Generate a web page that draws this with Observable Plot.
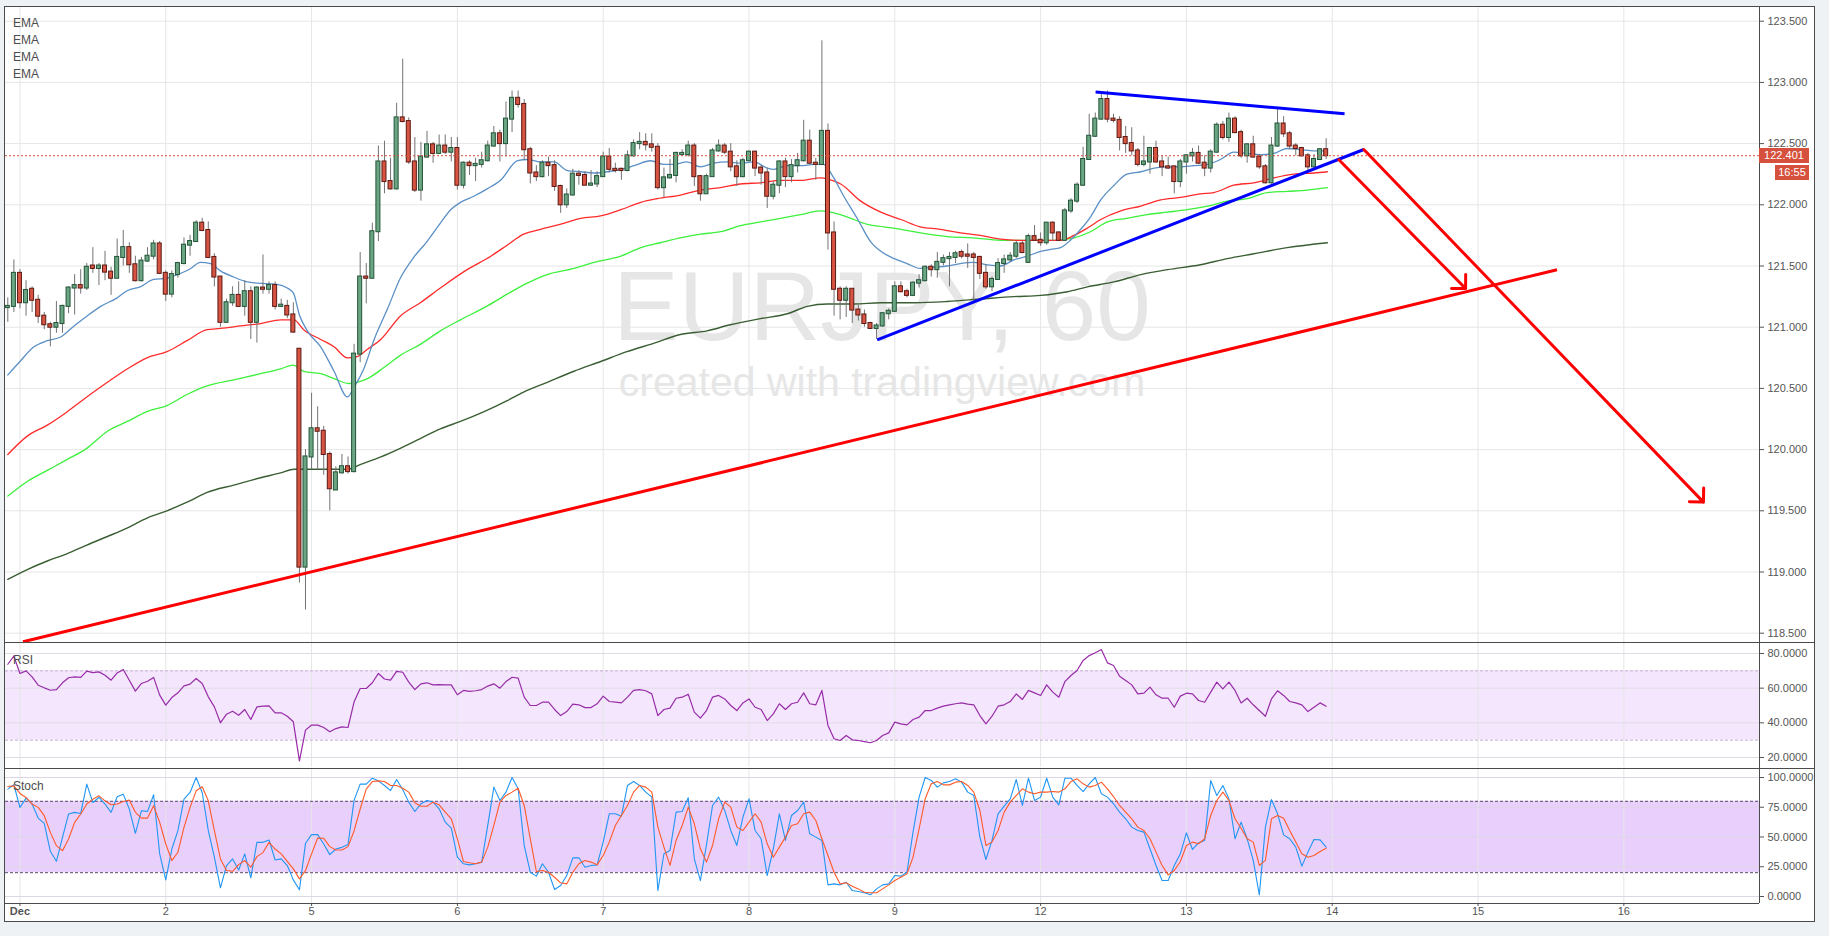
<!DOCTYPE html>
<html><head><meta charset="utf-8">
<script src="https://cdn.jsdelivr.net/npm/d3@7"></script>
<script src="https://cdn.jsdelivr.net/npm/@observablehq/plot@0.6"></script>
<style>
html,body{margin:0;padding:0;background:#eff2f5;}
#wrap{position:relative;width:1829px;height:936px;background:#eff2f5;font-family:"Liberation Sans",Arial,sans-serif;overflow:hidden}
.abs{position:absolute}
.ln{position:absolute;background:#4b4b4b}
.lbl{position:absolute;color:#4d4d4d;font-size:12px;line-height:17px}
.wm{position:absolute;left:5px;width:1754px;text-align:center;color:#e6e6e6;white-space:nowrap}
.tag{position:absolute;background:#d6503e;color:#fff;font-size:11px;text-align:center;line-height:15px;height:15px}
</style></head><body><div id="wrap"></div>
<script>
// ---------- DATA ----------
const dayTickIdx = [2, 26, 50, 74, 98, 122, 146, 170, 194, 218, 242, 266];
const dayLabels = ["Dec", "2", "5", "6", "7", "8", "9", "12", "13", "14", "15", "16"];
const priceTicks = [118.5, 119, 119.5, 120, 120.5, 121, 121.5, 122, 122.5, 123, 123.5];
const rsiTicks = [20, 40, 60, 80];
const stochTicks = [0, 25, 50, 75, 100];
const rsiBand = [30, 70];
const stochBand = [20, 80];

const open = [121.16,121.17,121.44,121.20,121.31,121.22,121.09,121.02,121.00,121.03,
121.17,121.32,121.34,121.32,121.50,121.48,121.50,121.45,121.40,121.57,
121.65,121.51,121.38,121.54,121.58,121.68,121.44,121.27,121.43,121.52,
121.67,121.70,121.85,121.79,121.57,121.41,121.04,121.20,121.26,121.17,
121.29,121.04,121.32,121.31,121.34,121.17,121.17,121.10,120.82,119.04,
119.94,120.17,120.15,119.96,119.67,119.81,119.86,119.82,120.78,121.41,
121.40,121.78,122.35,122.19,122.13,122.71,122.68,122.35,122.12,122.39,
122.49,122.42,122.48,122.43,122.46,122.16,122.34,122.32,122.33,122.36,
122.48,122.58,122.50,122.70,122.87,122.82,122.45,122.26,122.23,122.34,
122.32,122.15,122.00,122.08,122.25,122.24,122.16,122.17,122.23,122.39,
122.29,122.29,122.28,122.40,122.50,122.51,122.49,122.47,122.14,122.22,
122.24,122.41,122.41,122.48,122.23,122.09,122.23,122.44,122.48,122.43,
122.31,122.23,122.36,122.43,122.30,122.26,122.07,122.16,122.35,122.23,
122.32,122.36,122.52,122.34,122.33,122.60,121.77,121.31,121.22,121.31,
121.14,121.10,121.03,120.99,121.01,121.11,121.13,121.33,121.29,121.26,
121.36,121.38,121.49,121.47,121.53,121.56,121.57,121.61,121.59,121.59,
121.57,121.44,121.33,121.39,121.52,121.55,121.58,121.68,121.53,121.74,
121.71,121.69,121.85,121.77,121.71,121.95,122.03,122.16,122.37,122.56,
122.70,122.86,122.70,122.69,122.55,122.50,122.44,122.33,122.35,122.46,
122.35,122.31,122.31,122.19,122.35,122.40,122.42,122.34,122.30,122.43,
122.65,122.55,122.70,122.59,122.40,122.49,122.39,122.31,122.18,122.48,
122.66,122.58,122.48,122.46,122.40,122.31,122.37,122.45];
const high = [121.24,121.55,121.47,121.38,121.33,121.26,121.12,121.04,121.21,121.18,
121.33,121.43,121.47,121.52,121.65,121.52,121.62,121.49,121.72,121.79,
121.69,121.58,121.57,121.65,121.71,121.70,121.46,121.46,121.53,121.73,
121.75,121.87,121.89,121.86,121.60,121.41,121.23,121.33,121.37,121.38,
121.33,121.33,121.59,121.37,121.37,121.23,121.22,121.20,120.82,120.00,
120.46,120.35,120.19,119.98,119.86,119.96,119.94,120.86,121.61,121.52,
121.85,122.48,122.52,122.38,122.83,123.19,122.71,122.55,122.51,122.60,
122.51,122.57,122.57,122.55,122.55,122.35,122.36,122.38,122.43,122.52,
122.64,122.61,122.84,122.93,122.93,122.86,122.47,122.32,122.36,122.39,
122.36,122.16,122.13,122.29,122.28,122.27,122.28,122.27,122.43,122.46,
122.34,122.30,122.44,122.53,122.59,122.58,122.58,122.50,122.30,122.37,
122.43,122.45,122.52,122.50,122.24,122.25,122.46,122.53,122.50,122.50,
122.36,122.38,122.44,122.44,122.32,122.30,122.19,122.36,122.38,122.37,
122.42,122.69,122.61,122.38,123.34,122.66,121.86,121.33,121.33,121.31,
121.18,121.14,121.04,121.03,121.12,121.15,121.37,121.37,121.31,121.37,
121.43,121.50,121.51,121.61,121.59,121.61,121.62,121.63,121.68,121.61,
121.58,121.51,121.41,121.56,121.59,121.61,121.70,121.70,121.76,121.83,
121.77,121.85,121.86,121.78,121.97,122.05,122.18,122.47,122.74,122.75,
122.91,122.93,122.74,122.72,122.64,122.63,122.46,122.56,122.47,122.52,
122.40,122.39,122.31,122.37,122.41,122.46,122.48,122.40,122.45,122.67,
122.68,122.75,122.72,122.61,122.50,122.56,122.41,122.33,122.55,122.79,
122.72,122.60,122.50,122.47,122.42,122.41,122.46,122.54];
const low = [121.04,121.12,121.15,121.09,121.12,121.03,120.98,120.84,120.95,120.95,
121.11,121.10,121.27,121.30,121.44,121.34,121.38,121.26,121.40,121.50,
121.44,121.37,121.37,121.53,121.55,121.43,121.21,121.24,121.40,121.51,
121.58,121.70,121.78,121.56,121.33,121.00,121.03,121.17,121.17,121.09,
120.90,120.87,121.27,121.27,121.14,121.16,121.07,120.95,118.91,118.69,
119.84,119.83,119.79,119.50,119.67,119.80,119.80,119.81,120.71,121.19,
121.40,121.70,122.09,122.12,122.12,122.67,122.33,122.10,122.03,122.38,
122.34,122.41,122.41,122.35,122.12,122.13,122.24,122.19,122.30,122.35,
122.47,122.35,122.39,122.59,122.79,122.36,122.17,122.19,122.22,122.23,
122.11,121.93,121.97,122.07,122.16,122.16,122.15,122.14,122.23,122.26,
122.26,122.20,122.27,122.39,122.45,122.44,122.43,122.12,122.06,122.21,
122.18,122.40,122.39,122.15,122.03,122.09,122.23,122.43,122.41,122.27,
122.15,122.22,122.35,122.23,122.16,121.97,122.04,122.09,122.14,122.18,
122.26,122.35,122.33,122.20,122.32,121.63,121.09,121.06,121.08,121.03,
121.05,121.00,120.98,120.90,121.00,121.06,121.12,121.28,121.24,121.25,
121.32,121.37,121.41,121.40,121.50,121.33,121.52,121.56,121.48,121.20,
121.39,121.31,121.29,121.39,121.44,121.53,121.56,121.60,121.52,121.70,
121.66,121.67,121.70,121.70,121.70,121.93,122.01,122.15,122.37,122.55,
122.69,122.67,122.67,122.44,122.42,122.40,122.31,122.31,122.25,122.34,
122.23,122.29,122.09,122.14,122.25,122.35,122.33,122.23,122.26,122.42,
122.53,122.51,122.58,122.38,122.34,122.38,122.29,122.17,122.17,122.47,
122.55,122.45,122.40,122.39,122.28,122.30,122.37,122.37];
const close = [121.17,121.44,121.20,121.30,121.22,121.09,121.02,121.00,121.03,121.17,
121.32,121.34,121.32,121.49,121.48,121.50,121.45,121.40,121.57,121.65,
121.51,121.38,121.54,121.58,121.68,121.44,121.27,121.43,121.52,121.67,
121.70,121.85,121.79,121.57,121.41,121.04,121.20,121.26,121.17,121.29,
121.04,121.32,121.31,121.34,121.17,121.18,121.10,120.96,119.04,119.94,
120.17,120.15,119.96,119.68,119.81,119.86,119.82,120.78,121.41,121.40,
121.78,122.35,122.19,122.13,122.71,122.68,122.35,122.12,122.39,122.49,
122.42,122.48,122.43,122.46,122.16,122.34,122.32,122.33,122.36,122.48,
122.58,122.50,122.70,122.87,122.82,122.45,122.26,122.23,122.34,122.32,
122.15,122.00,122.08,122.25,122.24,122.16,122.17,122.23,122.39,122.29,
122.28,122.28,122.40,122.50,122.51,122.49,122.47,122.14,122.22,122.24,
122.42,122.42,122.48,122.23,122.09,122.23,122.44,122.48,122.43,122.31,
122.23,122.36,122.43,122.30,122.26,122.07,122.16,122.35,122.23,122.32,
122.36,122.52,122.34,122.33,122.60,121.77,121.31,121.22,121.31,121.14,
121.10,121.03,120.99,121.01,121.11,121.13,121.33,121.29,121.26,121.36,
121.38,121.49,121.47,121.53,121.56,121.57,121.60,121.58,121.58,121.57,
121.44,121.33,121.39,121.52,121.55,121.58,121.68,121.61,121.74,121.71,
121.69,121.85,121.77,121.71,121.95,122.03,122.16,122.37,122.56,122.70,
122.86,122.70,122.69,122.55,122.50,122.44,122.33,122.35,122.46,122.35,
122.31,122.30,122.19,122.35,122.40,122.42,122.34,122.30,122.43,122.65,
122.55,122.70,122.59,122.40,122.49,122.39,122.31,122.18,122.48,122.66,
122.58,122.48,122.46,122.40,122.31,122.37,122.45,122.401];

// EMA samples: bar index / value
const emaFastX = [0,2,4.3,6.5,8.7,10.9,13,15.3,18,19.7,21.8,24,26.2,27.9,30.1,31.7,33.4,35,37.2,39.4,41.1,44.3,46,47,48,49.3,51.5,53.7,55.9,57,58.6,60.3,62.5,64.6,66.8,69,71.2,72.9,74.5,76.7,78.9,81.1,83.9,85.5,87.7,89.9,92.1,94.3,96.5,98.7,100.9,103.1,105.8,108,109.6,111.8,114,116.2,118.4,120.6,122.8,125,126.1,128.3,130.5,132.7,134.3,135.7,137.6,139.8,142,143.7,145.9,148,150.2,152.4,154.6,156.8,158.9,161.2,163.4,165.6,167.8,170,172.2,173.3,174.9,176.6,178.2,179.9,182.1,184.2,186.5,188.7,190.9,193,195.2,197.5,199.6,201.8,204,206.2,208.4,210.6,212.8,215,217.2];
const emaFastY = [120.61,120.72,120.84,120.89,120.92,121.01,121.09,121.17,121.24,121.30,121.33,121.39,121.40,121.43,121.48,121.53,121.52,121.46,121.41,121.37,121.36,121.35,121.32,121.28,121.10,120.97,120.84,120.64,120.43,120.51,120.66,120.90,121.15,121.40,121.57,121.70,121.85,121.96,122.02,122.07,122.13,122.20,122.36,122.37,122.35,122.35,122.28,122.27,122.26,122.27,122.29,122.32,122.36,122.33,122.33,122.35,122.31,122.34,122.35,122.34,122.35,122.30,122.29,122.32,122.32,122.33,122.33,122.24,122.07,121.89,121.70,121.62,121.56,121.52,121.48,121.49,121.50,121.52,121.53,121.51,121.50,121.55,121.58,121.62,121.64,121.65,121.71,121.80,121.90,122.04,122.16,122.25,122.27,122.30,122.31,122.31,122.32,122.33,122.37,122.43,122.42,122.41,122.42,122.46,122.45,122.44,122.44];
const emaRedX = [0,3.2,6.5,9.8,13,16.4,19.7,22.9,26.2,29.5,32.8,35,38.3,41.6,44.9,47.1,48.7,51.5,53.7,55.9,57.5,59.2,61.4,64.6,67.9,71.2,75.6,79.5,82.2,84.9,87.7,90.9,94.3,97.6,100.9,104.2,106.9,110.7,114,117.3,120.6,123.9,127.2,130.5,133.8,135,137.1,140.4,143.7,147,150.2,153.5,156.8,160.1,163.4,166.7,170,173.3,175.5,177.7,179.9,183.2,186.5,189.8,193,196.3,198.5,201.8,205.1,208.4,211.7,215,217.2];
const emaRedY = [119.96,120.11,120.20,120.31,120.43,120.55,120.66,120.75,120.80,120.89,120.98,120.99,121.01,121.03,121.06,121.06,120.98,120.90,120.84,120.75,120.76,120.82,120.90,121.09,121.20,121.32,121.47,121.58,121.67,121.76,121.80,121.84,121.89,121.91,121.96,122.02,122.05,122.08,122.12,122.14,122.17,122.18,122.20,122.20,122.22,122.21,122.17,122.03,121.94,121.88,121.82,121.80,121.77,121.75,121.72,121.71,121.71,121.71,121.75,121.81,121.88,121.95,121.99,122.04,122.06,122.09,122.10,122.16,122.18,122.22,122.25,122.26,122.27];
const emaGreenX = [0,3.2,6.5,9.8,13,16.4,19.7,22.9,26.2,29.5,32.8,37.2,41.6,44.9,47,48.7,51.5,53.7,56.1,57.5,59.2,61.9,64.6,67.9,71.2,74.5,78.8,82.2,85.5,88.8,93.2,96.5,100.9,104.2,107.4,110.7,114,117.3,120.6,123.9,127.2,130.5,133.8,135.4,138.2,141.5,144.2,147,150.2,154.6,158.9,163.4,167.8,172.2,175.5,178.2,181,184.2,187.5,190.9,194.1,197.5,200.7,204,207.3,210.6,213.9,217.2];
const emaGreenY = [119.62,119.74,119.83,119.92,120.01,120.15,120.23,120.31,120.36,120.45,120.52,120.57,120.62,120.66,120.69,120.64,120.62,120.58,120.54,120.55,120.58,120.67,120.77,120.86,120.97,121.06,121.17,121.27,121.36,121.43,121.48,121.53,121.58,121.65,121.69,121.73,121.76,121.78,121.83,121.86,121.89,121.92,121.95,121.94,121.90,121.84,121.82,121.80,121.77,121.74,121.73,121.71,121.71,121.71,121.73,121.78,121.86,121.89,121.92,121.94,121.96,121.99,122.03,122.05,122.10,122.11,122.12,122.14];
const emaDarkX = [0,3.2,6.5,9.8,13,16.4,19.7,22.9,26.2,29.5,32.8,37.2,41.6,44.9,47.1,51.5,55.9,58.1,61.4,64.6,67.9,71.2,74.5,78.4,82.2,84.9,88.8,93.2,97.6,101.9,106.4,110.7,115.1,118.9,123.9,128.3,131.6,134.9,139.3,143.7,149.3,154.6,160.1,165.6,170,174.4,177.7,182.1,186.5,190.9,196.3,200.7,205.1,210.6,217.2];
const emaDarkY = [118.94,119.02,119.09,119.15,119.22,119.29,119.36,119.44,119.50,119.57,119.65,119.71,119.77,119.81,119.84,119.84,119.84,119.88,119.94,120.01,120.09,120.17,120.23,120.31,120.40,120.47,120.55,120.64,120.72,120.80,120.87,120.94,120.97,121.02,121.07,121.11,121.17,121.19,121.19,121.20,121.20,121.21,121.23,121.25,121.26,121.29,121.33,121.37,121.43,121.47,121.51,121.56,121.60,121.65,121.69];

const rsi = [73.8,78.5,68.5,70,66.5,61.7,60.2,58.8,59.2,63.1,
66,66.5,66.2,69.8,69,69.4,67.5,64.6,68.8,70.8,
64.6,58.3,62.7,64,66.2,56,50.2,54.6,57.3,61.3,
62.3,65.6,62.7,55,49.2,40,45,46.7,44.4,47.7,
41.9,49.2,49.6,49.8,45.8,45.8,43.8,40.6,18.1,35.8,
38.7,38.7,37.3,34.8,36.7,37.7,37.3,52.1,59.8,59.8,
63.1,68.5,65.3,64.6,69.7,69.2,63.5,59.2,62.5,63.1,
61.9,62.1,61.9,61.9,56.2,58.7,58.1,58.5,59.2,61.2,
62.5,60,63.8,66.3,65.8,54.8,50,50,51.9,51.9,
47.7,44.2,46.5,50.8,50.4,48.8,48.8,51,55.4,52.3,
51.9,51.5,54.8,58.7,59.2,58.5,56.7,44.2,47.7,48.5,
54.2,54.8,56.5,46.2,42.7,47.1,54.8,55.8,53.8,50,
47.1,51.5,53.8,49,47.7,41.3,45.2,51,47.7,51,
51.9,57.3,51,50.4,58.7,38.5,30.8,29.8,32.7,30.2,
29.8,29.2,28.5,29.8,32.7,34.2,40.4,39.4,38.8,41.9,
43.3,47.1,47.1,48.5,49.6,50.4,51,51.5,50.8,50.4,
44.2,39.4,43.8,49.6,50.4,52.3,56.7,53.5,58.7,57.3,
55.8,61.9,57.7,54.8,63.8,67.3,70.2,76,78.8,80.4,
82.3,74.6,73.1,66.9,64.4,61.9,56.7,57.1,60.6,56.2,
54.2,54.2,49,55.4,57.1,56.7,52.9,51.9,57.7,63.5,
59.6,63.5,58.7,51.5,54.2,50.4,47.1,43.8,53.8,58.5,
55.8,52.3,51.5,50.4,46.5,49,51.5,49.6];
const stochK = [90.2,93.9,74.9,82.7,77.7,65.9,61.5,38,29.6,49.7,
69.3,70.7,69.8,94.4,79,83.2,77.7,70.7,83.8,86,
73.5,53.1,72.1,71.5,85.5,35.8,14,39.9,55.3,81.8,
87.4,100,87.4,55.3,33,7.3,26,31.6,22.3,35.8,
15.6,45.5,45.5,47.5,30.7,31.6,26,14,5.6,44.7,
52,52,44.1,35.2,39.9,41.3,43.6,81,94.4,94.4,
99.4,97.2,93.3,89,98.3,89.9,79.3,71.4,77.9,80.7,
79.3,73.7,62.5,57.4,33,27.5,26.6,27.5,28.9,59.7,
91.9,80.7,87.7,100,90.5,42.9,20.4,17.1,27.5,20.4,
5.9,9.2,17.6,32.5,32.5,24.6,26,26.6,45.7,69.5,
69.5,67.5,93.3,96.6,93.3,87.7,83.5,5,35.9,38.7,
70.9,71.4,82.9,31.7,13.4,43.4,76.5,83.5,72.3,55.5,
42.9,66.7,82.1,55.5,48.5,17.6,40.1,69.5,47.1,68.1,
72.3,79.3,52.7,49.9,47.1,9.8,10.6,9.8,12,5,
4.2,3.1,1.4,6.4,9.8,10.6,17.6,17.1,20.4,54.1,
83.5,100,97.5,91.9,95.5,96.6,98.9,96.1,87.7,84.9,
49.9,31.1,47.1,69.5,75.9,82.1,98.3,76.5,99.4,80.7,
83.5,99.4,83.5,77,99.4,99.4,93.3,88.2,94.7,100,
86.3,83.5,77.9,70.9,65.3,58.3,55.5,54.1,40.1,26,
13.4,13.4,26,35.9,53.5,39.5,45.1,47.1,97.5,84.9,
93.3,82.1,48.5,62.5,48.5,30.3,1.4,58.3,81.5,69.5,
51.8,48.5,41.5,25.5,37.3,47.9,47.6,41.5];
const stochD = [92.5,93,86.6,83.2,77.7,74.9,67.9,53.9,42.7,38.5,
48.3,62.3,69.3,77.7,81.8,84.6,80.4,77.1,77.7,79.9,
81,70.7,65.9,65.9,76.3,62.3,44.1,30.2,37.2,58.1,
74.9,88.8,92.2,80.4,55.3,31.6,21.8,21.2,26.8,30.2,
24.6,33.5,36.9,45.5,39.9,35.8,29.6,23.2,14.8,21.8,
35.8,49.2,48.9,41.9,39.1,39.1,41.9,55.3,73.5,90.2,
96.6,97.2,96.6,93.3,93.3,91,87.7,78.7,75.9,75.9,
79.3,77,70.9,65.3,48.5,29.4,28.3,27.5,28.9,41.5,
59.7,79.3,84.9,87.7,91,76.5,48.5,21,21.8,20.4,
16.2,11.5,10.6,20.4,27.5,30.3,28.9,26.6,34.5,45.7,
59.7,68.1,76.5,87.7,93.3,91.9,87.7,58.3,41.5,26.1,
47.1,59.7,75.1,61.1,40.1,28.9,42.9,65.3,79.3,75.1,
58.3,55.5,62.5,69.5,62.5,44.3,33,41.5,49.9,59.7,
61.1,69.5,70.9,63.9,48.5,34.5,20.4,10.6,11.5,8.7,
6.4,3.6,3.1,3.1,6.4,9.8,13.4,16.2,19,33,
56.9,82.1,94.7,96.6,93.8,93.8,96.1,96.6,93.3,87.7,
72.3,42.9,45.7,55.5,70.9,79.3,84.9,90.5,87.7,86.3,
87.7,87.7,88.2,87.7,90.5,96.6,98.9,94.7,91.9,93.3,
96.1,90.5,84,76.5,70.9,65.3,58.3,55.5,48.5,37.3,
26.1,18.2,21.8,29.4,42.9,45.7,44.3,48.5,68.1,80.7,
87.7,80.7,65.3,57.4,48.5,45.7,26.1,30.3,65.3,68.1,
65.8,55.5,45.7,35.9,33,34.5,37.8,40.6];

// Drawings (bar index, price)
const redTrend = [{x1: 2.5, y1: 118.43, x2: 255, y2: 121.469}];
const blueTrends = [{x1: 143.1, y1: 120.897, x2: 223.2, y2: 122.452},
                    {x1: 179.05, y1: 122.921, x2: 220.03, y2: 122.743}];
const redArrows = [{x1: 219.1, y1: 122.368, x2: 239.95, y2: 121.316},
                   {x1: 223.2, y1: 122.452, x2: 279.1, y2: 119.571}];
const symbolText = "EURJPY, 60";
const creditText = "created with tradingview.com";
const countdown = "16:55";

// ---------- BUILD ----------
const candles = close.map((c, i) => ({i, open: open[i], high: high[i], low: low[i], close: c}));
const pts = (xs, ys) => xs.map((x, k) => ({x, y: ys[k]}));
const series = (arr) => arr.map((v, i) => ({x: i, y: v}));
const lastClose = close[close.length - 1];
const labelByIdx = new Map(dayTickIdx.map((d, k) => [d, dayLabels[k]]));

const GRID = "#e6e6e6";
const X_DOMAIN = [-0.38, 288.33];
const FONT = "'Liberation Sans', Arial, sans-serif";
const common = {
  width: 1829, marginLeft: 5, marginRight: 70,
  style: {background: "transparent", color: "#555", fontFamily: FONT, fontSize: "11px", overflow: "visible"}
};

const wrap = document.getElementById("wrap");
function add(html) { wrap.insertAdjacentHTML("beforeend", html); }

// frame
add(`<div class="abs" style="left:4px;top:6px;width:1811px;height:916px;box-sizing:border-box;border:1px solid #4b4b4b;background:#fff"></div>`);
// watermark
add(`<div class="wm" style="top:257px;font-size:98px;line-height:98px">${symbolText}</div>`);
add(`<div class="wm" style="top:362px;font-size:41px;line-height:41px">${creditText}</div>`);

const mainPlot = Plot.plot({
  ...common, height: 642, marginTop: 7, marginBottom: 0,
  x: {domain: X_DOMAIN, axis: null},
  y: {domain: [118.424, 123.612], axis: "right", ticks: priceTicks, tickFormat: d3.format(".3f"), tickSize: 4, tickPadding: 4, label: null},
  marks: [
    Plot.ruleX(dayTickIdx, {stroke: GRID}),
    Plot.ruleY(priceTicks, {stroke: GRID}),
    Plot.line(pts(emaDarkX, emaDarkY), {x: "x", y: "y", stroke: "#3a5e33", strokeWidth: 1.4, curve: "monotone-x"}),
    Plot.line(pts(emaGreenX, emaGreenY), {x: "x", y: "y", stroke: "#3cf03c", strokeWidth: 1.3, curve: "monotone-x"}),
    Plot.line(pts(emaRedX, emaRedY), {x: "x", y: "y", stroke: "#ff2b2b", strokeWidth: 1.3, curve: "monotone-x"}),
    Plot.line(pts(emaFastX, emaFastY), {x: "x", y: "y", stroke: "#5b90c6", strokeWidth: 1.3, curve: "monotone-x"}),
    Plot.ruleX(candles, {x: "i", y1: "low", y2: "high", stroke: "#737375"}),
    Plot.rect(candles, {filter: d => d.close >= d.open, x1: d => d.i - 0.33, x2: d => d.i + 0.33, y1: "open", y2: "close",
      fill: "#6ba583", stroke: "#225437", strokeWidth: 1, insetTop: -0.5, insetBottom: -0.5}),
    Plot.rect(candles, {filter: d => d.close < d.open, x1: d => d.i - 0.33, x2: d => d.i + 0.33, y1: "open", y2: "close",
      fill: "#d75442", stroke: "#5b1a13", strokeWidth: 1, insetTop: -0.5, insetBottom: -0.5}),
    Plot.ruleY([lastClose], {stroke: "#d0503c", strokeDasharray: "2,2"}),
    Plot.link(redTrend, {x1: "x1", y1: "y1", x2: "x2", y2: "y2", stroke: "#ff0000", strokeWidth: 3}),
    Plot.link(blueTrends, {x1: "x1", y1: "y1", x2: "x2", y2: "y2", stroke: "#0000ff", strokeWidth: 3}),
    Plot.arrow(redArrows, {x1: "x1", y1: "y1", x2: "x2", y2: "y2", stroke: "#ff0000", strokeWidth: 3, headAngle: 90, headLength: 7})
  ]
});

const rsiPlot = Plot.plot({
  ...common, height: 124, marginTop: 0, marginBottom: 0,
  x: {domain: X_DOMAIN, axis: null},
  y: {domain: [14.23, 85.77], axis: "right", ticks: rsiTicks, tickFormat: d3.format(".4f"), tickSize: 4, tickPadding: 4, label: null},
  marks: [
    Plot.rect([rsiBand], {y1: d => d[0], y2: d => d[1], fill: "#f3e6fd"}),
    Plot.ruleX(dayTickIdx, {stroke: GRID}),
    Plot.ruleY(rsiTicks, {stroke: "#e0dce6"}),
    Plot.ruleY(rsiBand, {stroke: "#c3aed0", strokeDasharray: "3,2"}),
    Plot.line(series(rsi), {x: "x", y: "y", stroke: "#982ca8", strokeWidth: 1.2})
  ]
});

const stochPlot = Plot.plot({
  ...common, height: 153, marginTop: 0, marginBottom: 19,
  x: {domain: X_DOMAIN, axis: "bottom", ticks: dayTickIdx, tickFormat: d => labelByIdx.get(d), tickSize: 3, tickPadding: 1, label: null},
  y: {domain: [-5.88, 106.72], axis: "right", ticks: stochTicks, tickFormat: d3.format(".4f"), tickSize: 4, tickPadding: 4, label: null},
  marks: [
    Plot.rect([stochBand], {y1: d => d[0], y2: d => d[1], fill: "#e9cffc"}),
    Plot.ruleX(dayTickIdx, {stroke: GRID}),
    Plot.ruleY(stochTicks, {stroke: "#ddd6e6"}),
    Plot.ruleY(stochBand, {stroke: "#5a4b6b", strokeDasharray: "3,2"}),
    Plot.line(series(stochK), {x: "x", y: "y", stroke: "#2196f3", strokeWidth: 1.1}),
    Plot.line(series(stochD), {x: "x", y: "y", stroke: "#ff5a28", strokeWidth: 1.1})
  ]
});

[[mainPlot, 0], [rsiPlot, 643], [stochPlot, 769]].forEach(([svg, top]) => {
  svg.style.position = "absolute";
  svg.style.left = "0px";
  svg.style.top = top + "px";
  svg.style.maxWidth = "none";
  wrap.appendChild(svg);
});
stochPlot.querySelectorAll("text").forEach(t => { if (t.textContent === "Dec") t.style.fontWeight = "bold"; });

// panel separators & axis line
add(`<div class="ln" style="left:4px;top:642px;width:1811px;height:1px"></div>`);
add(`<div class="ln" style="left:4px;top:768px;width:1811px;height:1px"></div>`);
add(`<div class="ln" style="left:4px;top:903px;width:1755px;height:1px"></div>`);
add(`<div class="ln" style="left:1759px;top:6px;width:1px;height:897px"></div>`);

// legends
add(`<div class="lbl" style="left:13px;top:15px">EMA<br>EMA<br>EMA<br>EMA</div>`);
add(`<div class="lbl" style="left:13px;top:652px">RSI</div>`);
add(`<div class="lbl" style="left:13px;top:778px">Stoch</div>`);

// last price tag
let yLast;
try { yLast = mainPlot.scale("y").apply(lastClose); } catch (e) { yLast = undefined; }
if (!(yLast >= 0)) yLast = 7 + (123.612 - lastClose) / (123.612 - 118.424) * 635;
add(`<div class="tag" style="left:1759px;width:50px;top:${(yLast - 7.5).toFixed(1)}px">${d3.format(".3f")(lastClose)}</div>`);
add(`<div class="tag" style="left:1775px;width:34px;top:${(yLast + 10).toFixed(1)}px">${countdown}</div>`);
</script></body></html>
